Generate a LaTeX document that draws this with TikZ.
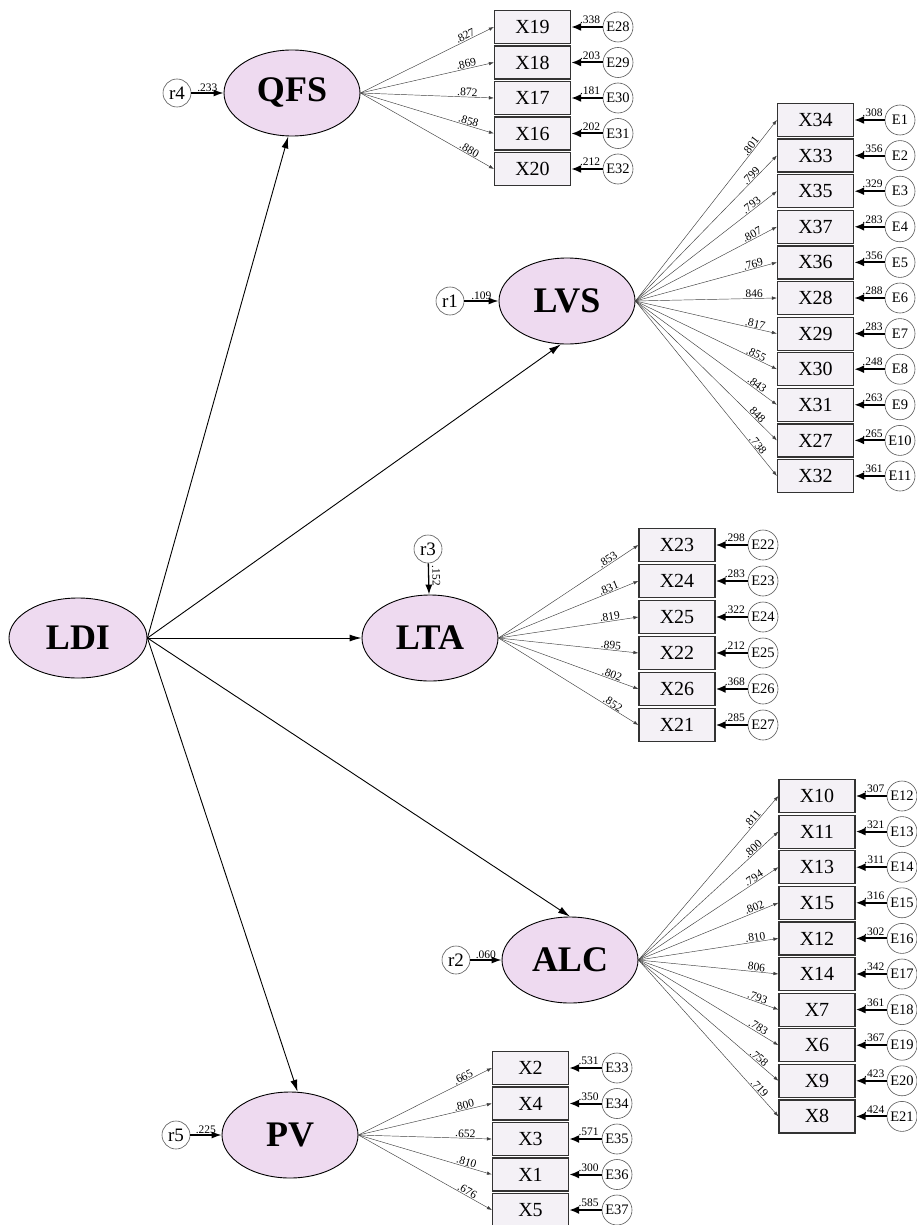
\documentclass[tikz,border=0pt]{standalone}
\usepackage{fontspec}
\setmainfont{Liberation Serif}
\usetikzlibrary{shapes.geometric,arrows.meta,calc}
\definecolor{latfill}{HTML}{EEDAF0}
\definecolor{boxfill}{HTML}{F4F1F6}
\definecolor{boxdraw}{HTML}{333333}
\begin{document}
\begin{tikzpicture}[x=1pt,y=-1pt,
  latent/.style={ellipse,draw=black,line width=0.9pt,fill=latfill,minimum width=136pt,minimum height=86pt,inner sep=0pt,font=\fontsize{36}{36}\selectfont\bfseries},
  obs/.style={rectangle,draw=boxdraw,line width=1.2pt,fill=boxfill,minimum width=76pt,minimum height=33pt,inner sep=0pt,font=\fontsize{20}{20}\selectfont},
  err/.style={circle,draw=black!65,line width=0.6pt,fill=white,minimum size=30pt,inner sep=0pt,font=\fontsize{14.5}{14.5}\selectfont},
  res/.style={circle,draw=black!65,line width=0.6pt,fill=white,minimum size=28pt,inner sep=0pt,font=\fontsize{19}{19}\selectfont},
  load/.style={draw=black!75,line width=0.45pt,-{Latex[length=5pt,width=3.5pt]}},
  errarrow/.style={draw=black,line width=2pt,-{Latex[length=10pt,width=8pt]}},
  resarrow/.style={draw=black,line width=1.3pt,-{Latex[length=10pt,width=7pt]}},
  structarrow/.style={draw=black,line width=0.9pt,-{Latex[length=12pt,width=7pt]}},
  coef/.style={font=\fontsize{11.5}{11.5}\selectfont,inner sep=0.6pt}
]
\fill[white] (0,0) rectangle (917,1225);
\useasboundingbox (0,0) rectangle (917,1225);

% latent variables
\node[latent,minimum width=138pt,minimum height=80pt] (LDI) at (78,638) {LDI};
\node[latent] (QFS) at (292,93) {QFS};
\node[latent] (LVS) at (567,301) {LVS};
\node[latent] (LTA) at (430,638) {LTA};
\node[latent] (ALC) at (570,960) {ALC};
\node[latent] (PV) at (290,1135) {PV};

% residuals
\node[res] (r4) at (177,93) {r4};
\node[res] (r1) at (450,301) {r1};
\node[res] (r3) at (428,549) {r3};
\node[res] (r2) at (456,960) {r2};
\node[res] (r5) at (176,1135) {r5};

\draw[resarrow] (r4) -- node[coef,above]{.233} (QFS);
\draw[resarrow] (r1) -- node[coef,above]{.109} (LVS);
\draw[resarrow] (r3) -- node[coef,pos=0.4,above,sloped,inner sep=3pt]{.152} (LTA);
\draw[resarrow] (r2) -- node[coef,above]{.060} (ALC);
\draw[resarrow] (r5) -- node[coef,above]{.225} (PV);

% structural paths
\draw[structarrow] (LDI.east) -- (QFS.265);
\draw[structarrow] (LDI.east) -- (LVS.262);
\draw[structarrow] (LDI.east) -- (LTA.west);
\draw[structarrow] (LDI.east) -- (ALC.north);
\draw[structarrow] (LDI.east) -- (PV.80);

% QFS indicators
\foreach \name/\ld/\en/\ev [count=\i from 0] in {X19/.827/E28/.338, X18/.869/E29/.203, X17/.872/E30/.181, X16/.858/E31/.202, X20/.880/E32/.212}{
  \pgfmathsetmacro\yy{27+35.5*\i}
  \node[obs] (\name) at (532.5,\yy) {\name};
  \node[err] (\en) at (618,\yy) {\en};
  \draw[load] (QFS.east) -- node[coef,pos=0.8,above,sloped]{\ld} (\name.west);
  \draw[errarrow] (\en) -- node[coef,pos=0.4,above=1.5pt]{\ev} (\name);
}

% LVS indicators
\foreach \name/\ld/\en/\ev [count=\i from 0] in {X34/.801/E1/.308, X33/.799/E2/.356, X35/.793/E3/.329, X37/.807/E4/.283, X36/.769/E5/.356, X28/846/E6/.288, X29/.817/E7/.283, X30/.855/E8/.248, X31/.843/E9/.263, X27/848/E10/.265, X32/.738/E11/.361}{
  \pgfmathsetmacro\yy{120+35.6*\i}
  \node[obs] (\name) at (815.5,\yy) {\name};
  \node[err] (\en) at (900,\yy) {\en};
  \draw[load] (LVS.east) -- node[coef,pos=0.84,above,sloped]{\ld} (\name.west);
  \draw[errarrow] (\en) -- node[coef,pos=0.4,above=1.5pt]{\ev} (\name);
}

% LTA indicators
\foreach \name/\ld/\en/\ev [count=\i from 0] in {X23/.853/E22/.298, X24/.831/E23/.283, X25/.819/E24/.322, X22/.895/E25/.212, X26/.802/E26/.368, X21/.852/E27/.285}{
  \pgfmathsetmacro\yy{545+36*\i}
  \node[obs] (\name) at (677,\yy) {\name};
  \node[err] (\en) at (763,\yy) {\en};
  \draw[load] (LTA.east) -- node[coef,pos=0.8,above,sloped]{\ld} (\name.west);
  \draw[errarrow] (\en) -- node[coef,pos=0.4,above=1.5pt]{\ev} (\name);
}

% ALC indicators
\foreach \name/\ld/\en/\ev [count=\i from 0] in {X10/.811/E12/.307, X11/.800/E13/.321, X13/.794/E14/.311, X15/.802/E15/.316, X12/.810/E16/.302, X14/806/E17/.342, X7/.793/E18/.361, X6/.783/E19/.367, X9/.758/E20/.423, X8/.719/E21/.424}{
  \pgfmathsetmacro\yy{796+35.6*\i}
  \node[obs] (\name) at (817,\yy) {\name};
  \node[err] (\en) at (902,\yy) {\en};
  \draw[load] (ALC.east) -- node[coef,pos=0.84,above,sloped]{\ld} (\name.west);
  \draw[errarrow] (\en) -- node[coef,pos=0.4,above=1.5pt]{\ev} (\name);
}

% PV indicators
\foreach \name/\ld/\en/\ev [count=\i from 0] in {X2/.665/E33/.531, X4/.800/E34/.350, X3/.652/E35/.571, X1/.810/E36/.300, X5/.676/E37/.585}{
  \pgfmathsetmacro\yy{1068+35.5*\i}
  \node[obs] (\name) at (530.5,\yy) {\name};
  \node[err] (\en) at (617,\yy) {\en};
  \draw[load] (PV.east) -- node[coef,pos=0.8,above,sloped]{\ld} (\name.west);
  \draw[errarrow] (\en) -- node[coef,pos=0.4,above=1.5pt]{\ev} (\name);
}
\end{tikzpicture}
\end{document}
